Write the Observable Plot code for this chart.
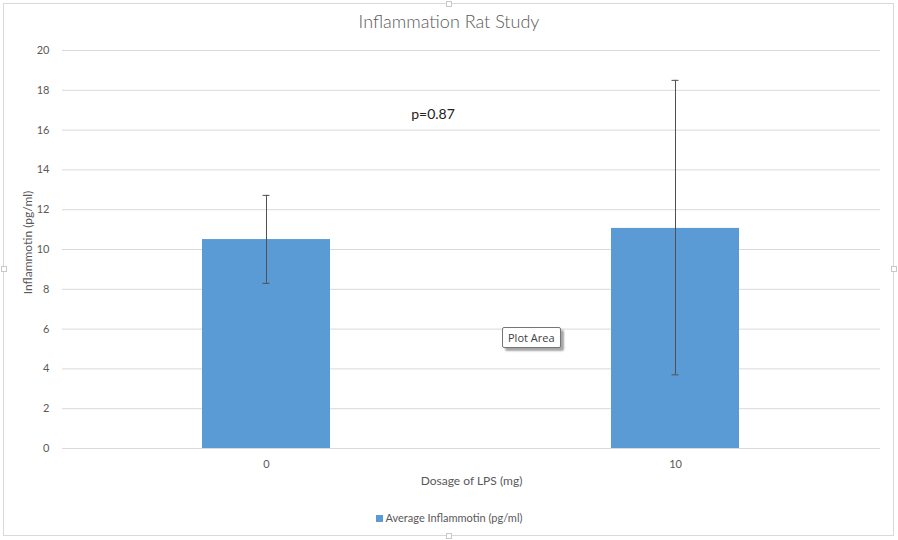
<!DOCTYPE html>
<html>
<head>
<meta charset="utf-8">
<script src="https://cdn.jsdelivr.net/npm/d3@7"></script>
<script src="https://cdn.jsdelivr.net/npm/@observablehq/plot@0.6"></script>
<style>
  html, body { margin: 0; padding: 0; background: #fff; }
  #wrap { position: relative; width: 898px; height: 540px; overflow: hidden; font-family: Lato, "Open Sans", sans-serif; }
  #border { position: absolute; left: 3px; top: 3px; width: 891px; height: 533px; border: 1px solid #d9d9d9; box-sizing: border-box; }
  .handle { position: absolute; width: 6px; height: 6px; background: #fff; border: 1px solid #c8c8c8; box-sizing: border-box; }
  #title { position: absolute; left: 0; top: 10px; width: 898px; text-align: center; font-size: 18px; font-weight: 300; color: #595959; }
  #chart { position: absolute; left: 0; top: 40px; }
  #legend { position: absolute; left: 0; top: 511px; width: 898px; text-align: center; font-size: 11px; color: #595959; }
  #legend .sw { display: inline-block; width: 7px; height: 7px; background: #5b9bd5; margin-right: 3px; vertical-align: 0px; }
  #tip { position: absolute; left: 502px; top: 327px; padding: 2px 5px; font-size: 11px; color: #404040; background: #fff; border: 1px solid #767676; border-radius: 2px; box-shadow: 3px 3px 2px rgba(0,0,0,0.35); font-family: "Open Sans", sans-serif; }
</style>
</head>
<body>
<div id="wrap">
  <div id="border"></div>
  <div class="handle" style="left:446px;top:1px"></div>
  <div class="handle" style="left:446px;top:533px"></div>
  <div class="handle" style="left:1px;top:266px"></div>
  <div class="handle" style="left:891px;top:266px"></div>
  <div id="title">Inflammation Rat Study</div>
  <div id="chart"></div>
  <div id="legend"><span class="sw"></span>Average Inflammotin (pg/ml)</div>
  <div id="tip">Plot Area</div>
</div>
<script>
const dosages = ["0", "10"];
const averages = [10.5, 11.06];
const errLow = [8.3, 3.7];
const errHigh = [12.72, 18.5];
const yTicks = [0, 2, 4, 6, 8, 10, 12, 14, 16, 18, 20];
const annotation = { text: "p=0.87", x: "0", y: 16.8 };

const data = dosages.map((d, i) => ({ dose: d, avg: averages[i], lo: errLow[i], hi: errHigh[i] }));

const chart = Plot.plot({
  width: 898,
  height: 460,
  marginTop: 10,
  marginBottom: 52,
  marginLeft: 62,
  marginRight: 18,
  style: { fontFamily: "Lato, 'Open Sans', sans-serif", fontSize: "11px", color: "#595959", background: "transparent" },
  x: { domain: dosages, paddingInner: 0.687, paddingOuter: 0.3435, label: null },
  y: { domain: [0, 20], label: null },
  marks: [
    Plot.gridY(yTicks, { stroke: "#d9d9d9", strokeOpacity: 1 }),
    Plot.barY(data, { x: "dose", y: "avg", fill: "#5b9bd5" }),
    Plot.ruleX(data, { x: "dose", y1: "lo", y2: "hi", stroke: "#505050", strokeWidth: 1 }),
    Plot.tickY(data, { x: "dose", y: "lo", stroke: "#505050", insetLeft: 60.5, insetRight: 60.5 }),
    Plot.tickY(data, { x: "dose", y: "hi", stroke: "#505050", insetLeft: 60.5, insetRight: 60.5 }),
    Plot.axisY(yTicks, { tickSize: 0, tickPadding: 13, fontSize: 11, fill: "#595959" }),
    Plot.axisX({ tickSize: 0, tickPadding: 12, fontSize: 11, fill: "#595959" }),
    Plot.text(["Dosage of LPS (mg)"], { frameAnchor: "bottom", dy: 36, fontSize: 12, fill: "#595959" }),
    Plot.text(["Inflammotin (pg/ml)"], { frameAnchor: "left", textAnchor: "middle", dx: -34, dy: -7, rotate: -90, fontSize: 12, fill: "#595959" }),
    Plot.text([annotation], { x: "x", y: "y", text: "text", dx: 166.5, fontSize: 14, fill: "#222" })
  ]
});
document.getElementById("chart").appendChild(chart);
</script>
</body>
</html>
